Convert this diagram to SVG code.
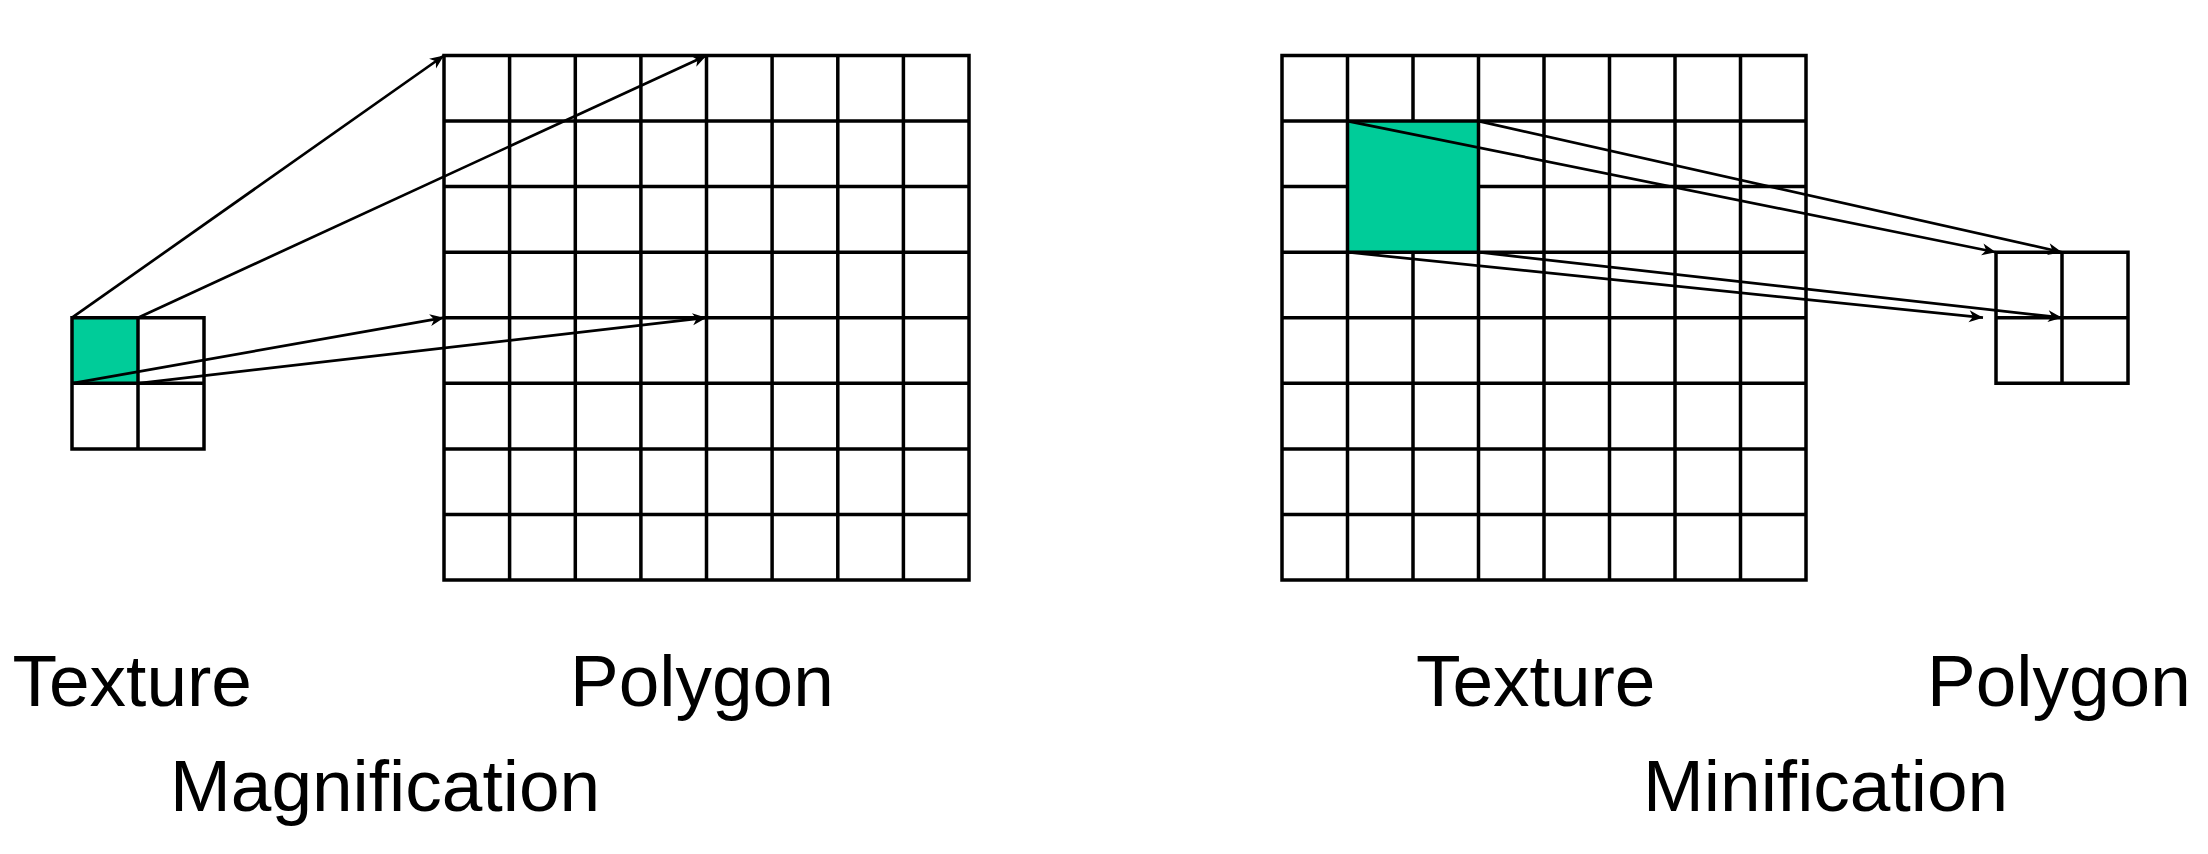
<svg xmlns="http://www.w3.org/2000/svg" width="2208" height="854" viewBox="0 0 2208 854">
  <style>
    .grid { stroke: #000; stroke-width: 3.5; fill: none; stroke-linecap: square; }
    .cell { fill: #00CC99; stroke: none; }
    .conn { stroke: #000; stroke-width: 2.7; fill: none; }
    .lbl { font-family: "Liberation Sans", Arial, sans-serif; font-size: 73px; fill: #000; }
  </style>
  <defs>
    <marker id="arr" markerUnits="userSpaceOnUse" viewBox="-15 -8 16 16" markerWidth="16" markerHeight="16" refX="0" refY="0" orient="auto">
      <path d="M0,0 L-14,-6 L-10,0 L-14,6 Z" fill="#000"/>
    </marker>
  </defs>
  <rect width="2208" height="854" fill="#fff"/>

  <!-- Magnification: texture 2x2 -->
  <g id="mag-texture">
    <rect class="cell" x="72" y="317.7" width="66" height="65.6"/>
    <path class="grid" d="M72,317.7 H204 M72,383.3 H204 M72,448.9 H204 M72,317.7 V448.9 M138,317.7 V448.9 M204,317.7 V448.9"/>
  </g>

  <!-- Magnification: polygon 8x8 -->
  <g id="mag-polygon">
    <path class="grid" d="M444,55.5 H969 M444,121.1 H969 M444,186.6 H969 M444,252.2 H969 M444,317.7 H969 M444,383.3 H969 M444,448.9 H969 M444,514.4 H969 M444,580 H969
      M444,55.5 V580 M509.6,55.5 V580 M575.3,55.5 V580 M640.9,55.5 V580 M706.5,55.5 V580 M772.1,55.5 V580 M837.8,55.5 V580 M903.4,55.5 V580 M969,55.5 V580"/>
  </g>

  <!-- Minification: texture 8x8 -->
  <g id="min-texture">
    <rect class="cell" x="1347.5" y="121.1" width="131" height="131.1"/>
    <path class="grid" d="M1282,55.5 H1806 M1282,121.1 H1806 M1282,186.6 H1347.5 M1478.5,186.6 H1806 M1282,252.2 H1806 M1282,317.7 H1806 M1282,383.3 H1806 M1282,448.9 H1806 M1282,514.4 H1806 M1282,580 H1806
      M1282,55.5 V580 M1347.5,55.5 V580 M1413,55.5 V121.1 M1413,252.2 V580 M1478.5,55.5 V580 M1544,55.5 V580 M1609.5,55.5 V580 M1675,55.5 V580 M1740.5,55.5 V580 M1806,55.5 V580"/>
  </g>

  <!-- Minification: polygon 2x2 -->
  <g id="min-polygon">
    <path class="grid" d="M1996,252.2 H2128 M1996,317.7 H2128 M1996,383.3 H2128 M1996,252.2 V383.3 M2062,252.2 V383.3 M2128,252.2 V383.3"/>
  </g>

  <g id="connectors">
    <line class="conn" x1="72" y1="317.7" x2="444" y2="55.5" marker-end="url(#arr)"/>
    <line class="conn" x1="138" y1="317.7" x2="706.5" y2="55.5" marker-end="url(#arr)"/>
    <line class="conn" x1="72" y1="383.3" x2="444" y2="317.7" marker-end="url(#arr)"/>
    <line class="conn" x1="138" y1="383.3" x2="706.5" y2="317.7" marker-end="url(#arr)"/>
    <line class="conn" x1="1347.5" y1="121.1" x2="1996" y2="252.2" marker-end="url(#arr)"/>
    <line class="conn" x1="1478.5" y1="121.1" x2="2062" y2="252.2" marker-end="url(#arr)"/>
    <line class="conn" x1="1347.5" y1="252.2" x2="1983" y2="317.7" marker-end="url(#arr)"/>
    <line class="conn" x1="1478.5" y1="252.2" x2="2062" y2="317.7" marker-end="url(#arr)"/>
  </g>

  <g id="labels">
    <text class="lbl" x="12.5" y="706">Texture</text>
    <text class="lbl" x="570" y="706">Polygon</text>
    <text class="lbl" x="170" y="811">Magnification</text>
    <text class="lbl" x="1416" y="706">Texture</text>
    <text class="lbl" x="1927" y="706">Polygon</text>
    <text class="lbl" x="1643" y="811">Minification</text>
  </g>
</svg>
